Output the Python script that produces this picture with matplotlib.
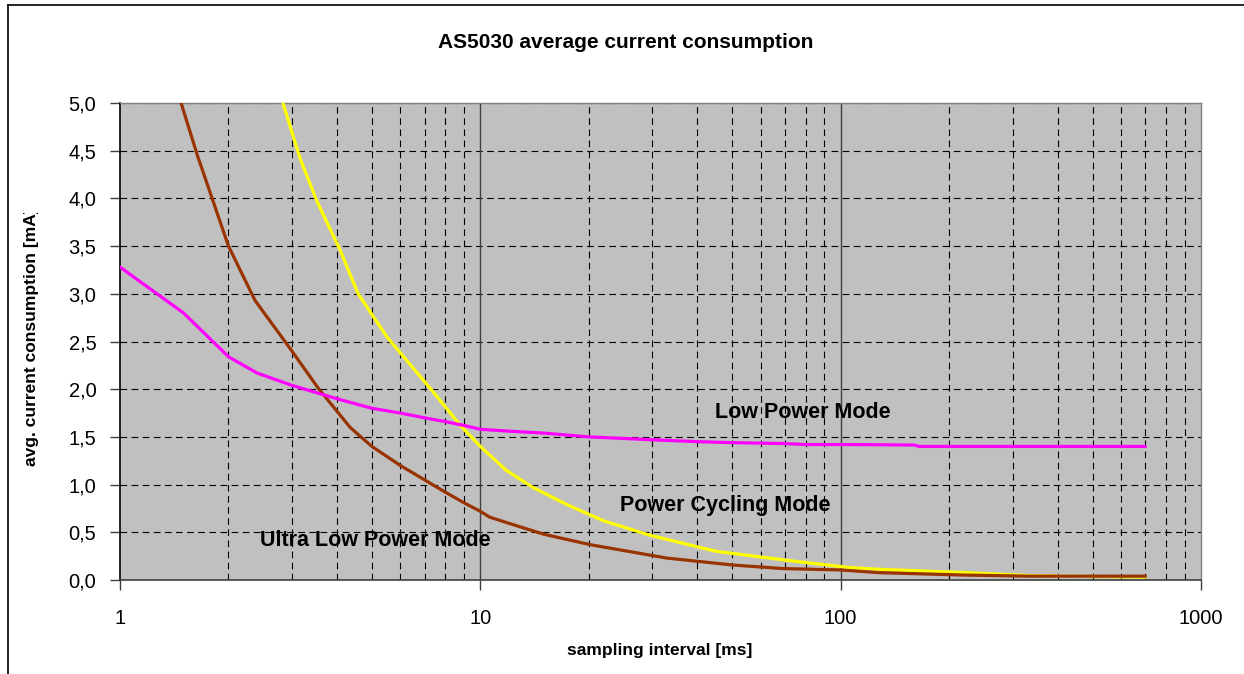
import numpy as np
import matplotlib
matplotlib.use("Agg")
import matplotlib.pyplot as plt
from matplotlib.ticker import FixedLocator, FuncFormatter, NullFormatter
from matplotlib.transforms import Bbox

plt.rcParams['font.family'] = ['Liberation Sans', 'DejaVu Sans']

# sampling interval [ms] and avg. current [mA]
low_x = [1, 1.5, 2, 2.4, 3, 4, 5, 6, 7, 8, 9, 10, 12, 15, 20, 30, 40, 50, 70,
         80, 100, 160, 165, 700]
low_y = [3.28, 2.80, 2.34, 2.17, 2.04, 1.90, 1.80, 1.75, 1.70, 1.66, 1.62,
         1.58, 1.56, 1.54, 1.50, 1.47, 1.45, 1.44, 1.43, 1.42, 1.42, 1.415,
         1.40, 1.40]

ulp_x = [1.45, 1.64, 2, 2.37, 3, 3.55, 4.35, 5, 6, 7, 8, 9, 10, 10.6, 12.1,
         15, 20.2, 32.9, 50.2, 69, 100, 128, 218, 335, 700]
ulp_y = [5.10, 4.45, 3.50, 2.93, 2.40, 2.01, 1.60, 1.40, 1.20, 1.05, 0.92,
         0.81, 0.72, 0.66, 0.59, 0.48, 0.37, 0.23, 0.157, 0.12, 0.105, 0.077,
         0.052, 0.04, 0.04]

pc_x = [2.78, 3.16, 3.52, 4.08, 4.58, 5.5, 7.33, 8.8, 10, 11.8, 14, 17.4,
        22, 29.5, 45.2, 77, 106, 128, 224, 342, 700]
pc_y = [5.10, 4.42, 3.97, 3.46, 3.00, 2.55, 1.99, 1.62, 1.40, 1.15, 0.97,
        0.79, 0.62, 0.47, 0.30, 0.19, 0.13, 0.112, 0.077, 0.045, 0.03]

y_ticks = [0, 0.5, 1.0, 1.5, 2.0, 2.5, 3.0, 3.5, 4.0, 4.5, 5.0]
x_major = [1, 10, 100, 1000]
x_minor = [m * d for d in [1, 10, 100] for m in range(2, 10)]

fig = plt.figure(figsize=(12.44, 6.74), dpi=100)
ax = fig.add_axes([120 / 1244, 1 - 580 / 674, 1081 / 1244, 477 / 674])
ax.set_facecolor('#c0c0c0')

# outer chart border (only top and left visible)
fig.add_artist(plt.Line2D([8 / 1244, 1], [1 - 5 / 674, 1 - 5 / 674],
                          color='black', lw=1.2, transform=fig.transFigure))
fig.add_artist(plt.Line2D([8 / 1244, 8 / 1244], [0, 1 - 5 / 674],
                          color='black', lw=1.2, transform=fig.transFigure))

ax.set_xscale('log')
ax.set_xlim(1, 1000)
ax.set_ylim(0, 5)

# grid lines
for v in y_ticks[1:]:
    ax.axhline(v, color='black', lw=0.8, ls=(0, (6, 4)), zorder=1)
for v in x_minor:
    ax.axvline(v, color='black', lw=0.8, ls=(0, (6, 4)), zorder=1)
for v in [10, 100]:
    ax.axvline(v, color='#404040', lw=1.0, zorder=1)

ax.plot(pc_x, pc_y, color='#ffff00', lw=2.3, zorder=3)
ax.plot(ulp_x, ulp_y, color='#993300', lw=2.3, zorder=4)
ax.plot(low_x, low_y, color='#ff00ff', lw=2.3, zorder=5)

ax.xaxis.set_major_locator(FixedLocator(x_major))
ax.xaxis.set_minor_locator(FixedLocator(x_minor))
ax.xaxis.set_minor_formatter(NullFormatter())
ax.xaxis.set_major_formatter(FuncFormatter(lambda v, p: f"{v:g}"))
ax.yaxis.set_major_locator(FixedLocator(y_ticks))
ax.yaxis.set_major_formatter(FuncFormatter(lambda v, p: f"{v:.1f}".replace('.', ',')))

ax.tick_params(axis='both', which='major', direction='out', length=7,
               width=1, labelsize=14.5, color='#404040')
ax.tick_params(axis='x', which='minor', length=0)
ax.tick_params(axis='x', pad=14)
ax.tick_params(axis='y', pad=10)

for s in ['top', 'right']:
    ax.spines[s].set_color('#808080')
    ax.spines[s].set_linewidth(1.0)
ax.spines['left'].set_color('black')
ax.spines['bottom'].set_color('#404040')
ax.spines['left'].set_linewidth(1.2)
ax.spines['bottom'].set_linewidth(1.2)

ax.text(44.8, 1.76, 'Low Power Mode', fontsize=15.5, fontweight='bold',
        va='center', ha='left', zorder=6)
ax.text(24.4, 0.78, 'Power Cycling Mode', fontsize=15.5, fontweight='bold',
        va='center', ha='left', zorder=6)
ax.text(2.45, 0.41, 'Ultra Low Power Mode', fontsize=15.5, fontweight='bold',
        va='center', ha='left', zorder=6)

fig.text(626 / 1244, 1 - 43 / 674, 'AS5030 average current consumption',
         fontsize=15, fontweight='bold', ha='center', va='center')
fig.text(660 / 1244, 1 - 650 / 674, 'sampling interval [ms]',
         fontsize=12.5, fontweight='bold', ha='center', va='center')

yl = fig.text(32 / 1244, 1 - 466 / 674, 'avg. current consumption [mA]',
              fontsize=12.5, fontweight='bold', rotation=90,
              ha='center', va='bottom')
yl.set_clip_on(True)
yl.set_clip_box(Bbox([[0, 0], [1244, 674 - 213]]))

fig.savefig('out.png', dpi=100)
